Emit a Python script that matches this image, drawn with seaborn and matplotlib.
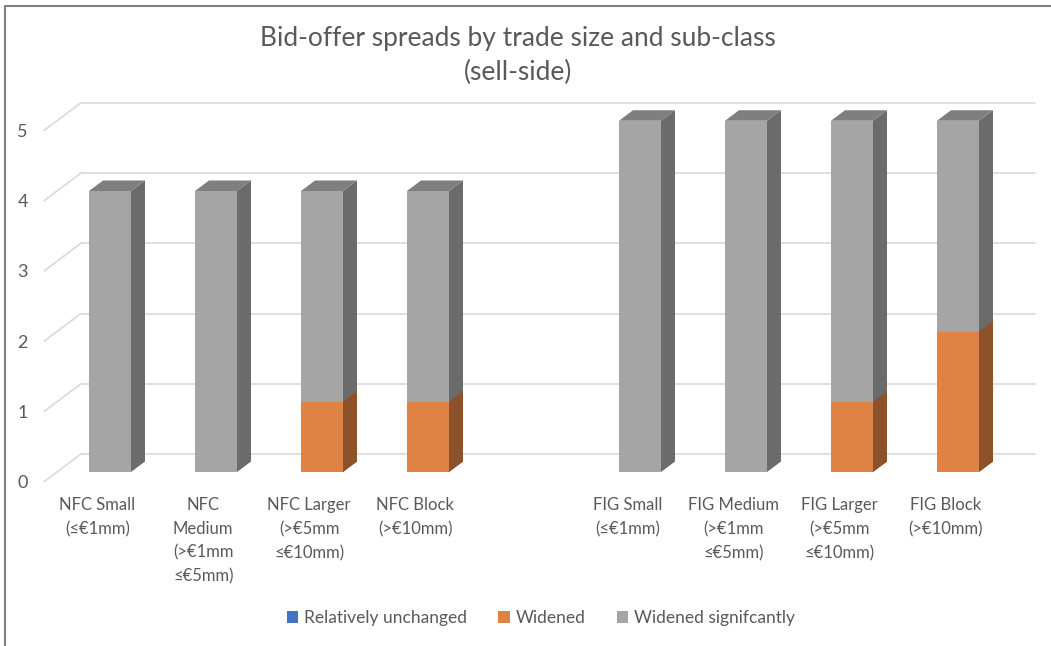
import matplotlib
matplotlib.use("Agg")
import matplotlib.pyplot as plt
import matplotlib.transforms as mtransforms
from matplotlib.patches import Polygon, Patch
from matplotlib.lines import Line2D
import seaborn as sns
import pandas as pd

# ---------------- data ----------------
categories = [
    "NFC Small\n(≤€1mm)",
    "NFC\nMedium\n(>€1mm\n≤€5mm)",
    "NFC Larger\n(>€5mm\n≤€10mm)",
    "NFC Block\n(>€10mm)",
    "FIG Small\n(≤€1mm)",
    "FIG Medium\n(>€1mm\n≤€5mm)",
    "FIG Larger\n(>€5mm\n≤€10mm)",
    "FIG Block\n(>€10mm)",
]
spacer = " "
order = categories[:4] + [spacer] + categories[4:]
relatively_unchanged = [0, 0, 0, 0, 0, 0, 0, 0]
widened = [0, 0, 1, 1, 0, 0, 1, 2]
widened_significantly = [4, 4, 3, 3, 5, 5, 4, 3]
series_names = ["Relatively unchanged", "Widened", "Widened signifcantly"]
y_ticks = [0, 1, 2, 3, 4, 5]
title = "Bid-offer spreads by trade size and sub-class\n(sell-side)"

# ---------------- style ----------------
sns.set_theme(style="white")
plt.rcParams["font.family"] = ["Lato", "DejaVu Sans"]
TXT = "#595959"
C_BLUE = "#4472C4"
C_OR, C_OR_SIDE = "#DF8344", "#8D5229"
C_GR, C_GR_SIDE, C_GR_TOP = "#A5A5A5", "#6B6B6B", "#7F7F7F"
GRID = "#D9D9D9"

W, H, DPI = 1051, 646, 100
fig = plt.figure(figsize=(W / DPI, H / DPI), dpi=DPI)
fig.patch.set_facecolor("white")

# axes: front plane of bars
x0_px, x1_px = 57, 1011
y0_px, y5_px = 472, 120.75
ax = fig.add_axes([x0_px / W, (H - y0_px) / H, (x1_px - x0_px) / W, (y0_px - y5_px) / H])
ax.set_facecolor("none")

df = pd.DataFrame({
    "cat": categories,
    "unchanged": relatively_unchanged,
    "widened": widened,
    "sig": widened_significantly,
})
df["total"] = df["unchanged"] + df["widened"] + df["sig"]
df["lower"] = df["unchanged"] + df["widened"]

bar_w = 42 / 106
sns.barplot(data=df, x="cat", y="total", order=order, color=C_GR, width=bar_w,
            saturation=1, linewidth=0, ax=ax, zorder=3)
n_gray = len(ax.patches)
sns.barplot(data=df, x="cat", y="lower", order=order, color=C_OR, width=bar_w,
            saturation=1, linewidth=0, ax=ax, zorder=4)
sns.barplot(data=df, x="cat", y="unchanged", order=order, color=C_BLUE, width=bar_w,
            saturation=1, linewidth=0, ax=ax, zorder=5)
patches = list(ax.patches)
gray_p = patches[:n_gray]
orange_p = patches[n_gray:2 * n_gray]

ax.set_xlim(-0.5, len(order) - 0.5)
ax.set_ylim(0, 5)

# pixel -> data conversions
px_x = (len(order)) / (x1_px - x0_px)
px_y = 5 / (y0_px - y5_px)
bdx, bdy = 14 * px_x, 10.5 * px_y      # bar depth
wdx, wdy = 24 * px_x, 18 * px_y        # back wall offset
fdx, fdy = -12.8 * px_x, -9.6 * px_y   # front floor offset


def side_faces(p, color, top_color=None):
    x, w, h, b = p.get_x(), p.get_width(), p.get_height(), p.get_y()
    if h <= 0:
        return
    xr = x + w
    side = Polygon([(xr, b), (xr, b + h), (xr + bdx, b + h + bdy), (xr + bdx, b + bdy)],
                   closed=True, facecolor=color, edgecolor="none", zorder=3, clip_on=False)
    ax.add_patch(side)
    if top_color:
        top = Polygon([(x, b + h), (xr, b + h), (xr + bdx, b + h + bdy), (x + bdx, b + h + bdy)],
                      closed=True, facecolor=top_color, edgecolor="none", zorder=3, clip_on=False)
        ax.add_patch(top)


for p in gray_p:
    side_faces(p, C_GR_SIDE, C_GR_TOP)
for p in orange_p:
    if p.get_height() > 0:
        xr = p.get_x() + p.get_width()
        ax.add_patch(Polygon([(xr, 0), (xr, p.get_height()),
                              (xr + bdx, p.get_height() + bdy), (xr + bdx, bdy)],
                             closed=True, facecolor=C_OR_SIDE, edgecolor="none",
                             zorder=4.5, clip_on=False))
for p in gray_p:
    p.set_clip_on(False)
for p in orange_p:
    p.set_clip_on(False)

# back wall gridlines + left diagonals
xl, xr_ = -0.5, len(order) - 0.5
for v in y_ticks:
    ax.add_line(Line2D([xl + wdx, xr_ + wdx], [v + wdy, v + wdy], color=GRID, lw=1.2,
                       zorder=1, clip_on=False))
    ax.add_line(Line2D([xl + fdx, xl + wdx], [v + fdy, v + wdy], color=GRID, lw=1.2,
                       zorder=1, clip_on=False))

# ticks
for s in ax.spines.values():
    s.set_visible(False)
ax.set_yticks(y_ticks)
ax.set_yticklabels([str(v) for v in y_ticks])
ax.tick_params(axis="y", length=0, pad=21, labelsize=13, labelcolor=TXT)
ax.tick_params(axis="x", length=0, pad=18, labelsize=12, labelcolor=TXT)
ax.set_xlabel("")
ax.set_ylabel("")
ax.grid(False)
for lbl in ax.get_yticklabels():
    lbl.set_transform(lbl.get_transform() + mtransforms.ScaledTranslation(0, -9.6 / DPI, fig.dpi_scale_trans))
for lbl in ax.get_xticklabels():
    lbl.set_transform(lbl.get_transform() + mtransforms.ScaledTranslation(-12.8 / DPI, 0, fig.dpi_scale_trans))
    lbl.set_linespacing(1.6)
    lbl.set_verticalalignment("top")

# title
fig.text(518 / W, 1 - 55.5 / H, title, ha="center", va="center", fontsize=19, color=TXT,
         linespacing=1.4)

# legend
handles = [Patch(facecolor=c, edgecolor="none") for c in (C_BLUE, C_OR, C_GR)]
fig.legend(handles, series_names, loc="center", bbox_to_anchor=(541 / W, 1 - 618 / H),
           ncol=3, frameon=False, fontsize=12.5, labelcolor=TXT, handlelength=0.65,
           handleheight=0.65, handletextpad=0.35, columnspacing=1.8)

# outer frame (top and left edges visible)
fig.add_artist(Line2D([4.5 / W, 4.5 / W], [0, 1 - 6 / H], transform=fig.transFigure,
                      color="#7F7F7F", lw=1.5))
fig.add_artist(Line2D([4.5 / W, 1], [1 - 6 / H, 1 - 6 / H], transform=fig.transFigure,
                      color="#7F7F7F", lw=1.5))

fig.savefig("out.png", dpi=DPI, facecolor="white")
